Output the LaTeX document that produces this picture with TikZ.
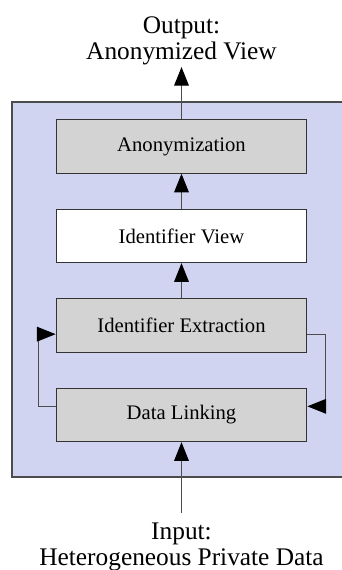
\documentclass[tikz,border=0pt]{standalone}
\usepackage{fontspec}
\setmainfont{Liberation Serif}
\usetikzlibrary{arrows.meta}

\definecolor{panelblue}{RGB}{208,212,240}
\definecolor{stagegray}{RGB}{211,211,211}

\tikzset{
  stage/.style={draw=black!80, line width=0.8pt, fill=stagegray,
    minimum width=188pt, minimum height=40pt,
    font=\fontsize{15.5}{18}\selectfont},
  endlabel/.style={align=center, inner sep=2pt,
    font=\fontsize{19}{19.5}\selectfont},
  flow/.style={-{Triangle[length=14pt,width=11pt,color=black]}, draw=black!70, line width=0.8pt},
}

\begin{document}
\begin{tikzpicture}[x=0.75pt,y=-0.75pt]
  \useasboundingbox (0,0) rectangle (342,570);
  % system panel
  \fill[panelblue] (12,102) rectangle (350,477);
  \draw[black!70,line width=1.2pt] (350,102) -- (12,102) -- (12,477) -- (350,477);

  \node[stage] (anon) at (181.5,146.5) {Anonymization};
  \node[stage,fill=white] (idview) at (181.5,236) {Identifier View};
  \node[stage] (extract) at (181.5,325.5) {Identifier Extraction};
  \node[stage] (linking) at (181.5,415) {Data Linking};

  \node[endlabel,anchor=south,inner sep=1pt] (output) at (181.5,67) {Output:\\Anonymized View};
  \node[endlabel,anchor=north,inner sep=7pt] (input) at (181.5,513) {Input:\\Heterogeneous Private Data};

  \draw[flow] (input.north) -- (linking.south);
  \draw[flow] (extract.north) -- (idview.south);
  \draw[flow] (idview.north) -- (anon.south);
  \draw[flow] (anon.north) -- (output.south);

  % feedback loop between extraction and linking
  \draw[flow] ([yshift=6.5pt]linking.west) -- ++(-13pt,0) |- ([yshift=-6.5pt]extract.west);
  \draw[flow] ([yshift=-6.5pt]extract.east) -- ++(13.5pt,0) |- ([yshift=6.5pt]linking.east);
\end{tikzpicture}
\end{document}
